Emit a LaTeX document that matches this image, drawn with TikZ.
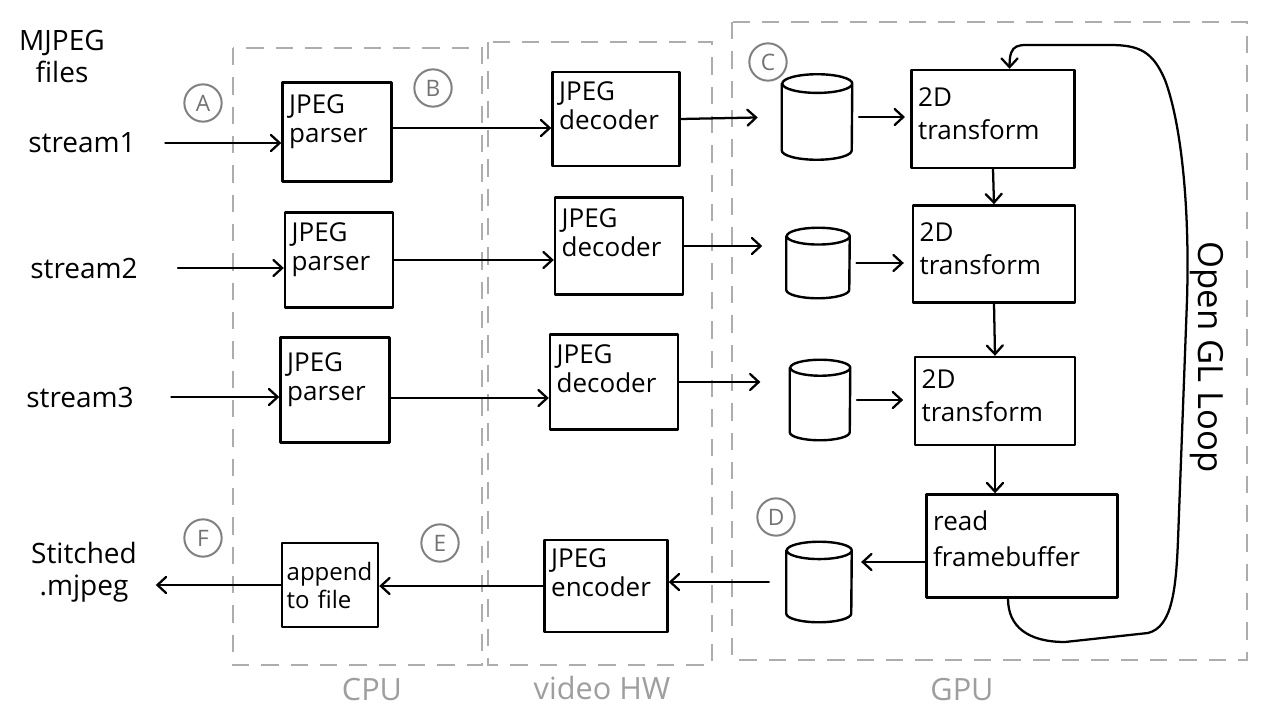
\documentclass[tikz,border=0pt]{standalone}
\usepackage{fontspec}
\setmainfont{Open Sans}
\usetikzlibrary{arrows.meta}
\newcommand\drawcyl[5]{%
  \node[minimum width=#4*0.75pt, minimum height=#5*0.75pt, inner sep=0pt] (#1) at (#2,#3) {};
  \draw[ink] ([yshift=-#4*0.1pt]#1.north west) -- ([yshift=#4*0.1pt]#1.south west)
    arc[start angle=180, end angle=360, x radius=#4*0.375pt, y radius=#4*0.1pt]
    -- ([yshift=-#4*0.1pt]#1.north east)
    arc[start angle=0, end angle=360, x radius=#4*0.375pt, y radius=#4*0.1pt];
}
\begin{document}
\begin{tikzpicture}[x=0.75pt,y=-0.75pt,
  ink/.style={line width=1.8pt, line join=round, line cap=round},
  box/.style 2 args={draw, ink, rectangle, align=left, inner xsep=5pt, inner ysep=3.5pt,
     font=\fontsize{19.5}{22}\selectfont, text width=#1*0.75pt-10pt, minimum height=#2*0.75pt,
     text depth=42pt},
  tbox/.style={font=\fontsize{19.5}{25}\selectfont, text depth=33pt},
  flow/.style={line width=1.7pt, line cap=round, -{Straight Barb[length=6.5pt,width=12pt,line cap=round]}},
  region/.style={draw=black!32, line width=2pt, dash pattern=on 13pt off 9pt},
  tag/.style={draw=black!50, circle, line width=1.5pt, text=black!55, inner sep=0pt,
     minimum size=28pt, font=\fontsize{17}{17}\selectfont},
  lbl/.style={font=\fontsize{21}{24}\selectfont, align=left, inner sep=0pt},
  regionlabel/.style={text=black!38, font=\fontsize{23}{25}\selectfont}
]
\useasboundingbox (0,0) rectangle (1280,720);

% regions
\draw[region] (233,48) rectangle (482,665);
\draw[region] (488,42) rectangle (712,665);
\draw[region] (732,22) rectangle (1247,660);
\node[regionlabel] (lcpu) at (372,690) {CPU};
\node[regionlabel] (lvid) at (602,688) {video HW};
\node[regionlabel] (lgpu) at (962,690) {GPU};

% left labels
\node[lbl, align=center] (mj) at (62,57) {MJPEG\\files};
\node[lbl, anchor=west] (s1) at (28,143) {stream1};
\node[lbl, anchor=west] (s2) at (30,268) {stream2};
\node[lbl, anchor=west] (s3) at (26,397) {stream3};
\node[lbl, align=center] (st) at (84,572) {Stitched\\.mjpeg};

% tags
\node[tag] (tA) at (203,103) {A};
\node[tag] (tB) at (433,88) {B};
\node[tag] (tC) at (768,62) {C};
\node[tag] (tD) at (776,517) {D};
\node[tag] (tE) at (440,543) {E};
\node[tag] (tF) at (203,538) {F};

% CPU
\node[box={109}{99}] (p1) at (337,132) {JPEG\\parser};
\node[box={108}{95}] (p2) at (339,260) {JPEG\\parser};
\node[box={109}{105}] (p3) at (335,390) {JPEG\\parser};
\node[box={96}{84}, inner xsep=3.5pt, text width=96*0.75pt-7pt, font=\fontsize{18}{21}\selectfont, text depth={}] (app) at (330,585) {append\\to file};

% video HW
\node[box={127}{94}] (d1) at (616,119) {JPEG\\decoder};
\node[box={128}{97}] (d2) at (619,246) {JPEG\\decoder};
\node[box={128}{95}] (d3) at (614,382) {JPEG\\decoder};
\node[box={123}{92}] (enc) at (606,586) {JPEG\\encoder};

% GPU
\drawcyl{c1}{817}{117}{70}{85}
\drawcyl{c2}{818}{263}{63}{70}
\drawcyl{c3}{820}{400}{60}{80}
\drawcyl{cD}{819}{582}{65}{80}
\node[box={163}{98}, tbox] (t1) at (993,119) {2D\\transform};
\node[box={162}{97}, tbox] (t2) at (994,254) {2D\\transform};
\node[box={160}{88}, tbox] (t3) at (995,401) {2D\\transform};
\node[box={191}{103}, font=\fontsize{19.5}{27}\selectfont, text depth=38pt] (fb) at (1022,546) {read\\framebuffer};

% helper points
\coordinate (p1o) at ([yshift=3pt]p1.east);
\coordinate (p3o) at ([yshift=-6pt]p3.east);
\coordinate (fbo) at ([yshift=-12pt]fb.west);
\coordinate (loopend) at ([xshift=12.4pt]t1.north);
\coordinate (loopctl) at ([xshift=12.4pt,yshift=20pt]t1.north);
\coordinate (loopstart) at ([xshift=-10.5pt]fb.south);

% flows row 1
\draw[flow] ([xshift=22pt]s1.east) -- (p1.west |- s1.east);
\draw[flow] (p1o) -- (d1.west |- p1o);
\draw[flow, shorten >=18pt] (d1.east) -- (c1.west);
\draw[flow, shorten <=5pt, shorten >=4pt] (c1.east) -- (t1.west |- c1.east);
% row 2
\draw[flow] ([xshift=30pt]s2.east) -- (p2.west |- s2.east);
\draw[flow] (p2.east) -- (d2.west |- p2.east);
\draw[flow, shorten >=18pt] (d2.east) -- (c2.west |- d2.east);
\draw[flow, shorten <=5pt, shorten >=6pt] (c2.east) -- (t2.west |- c2.east);
% row 3
\draw[flow] ([xshift=28pt]s3.east) -- (p3.west |- s3.east);
\draw[flow] (p3o) -- (d3.west |- p3o);
\draw[flow, shorten >=22pt] (d3.east) -- (c3.west |- d3.east);
\draw[flow, shorten <=5pt, shorten >=8pt] (c3.east) -- (t3.west |- c3.east);
% vertical chain
\draw[flow] (t1.south) -- (t2.north);
\draw[flow] (t2.south) -- (t3.north);
\draw[flow] (t3.south) -- (t3.south |- fb.north);
% return row
\draw[flow, shorten >=7pt] (fbo) -- (cD.east |- fbo);
\draw[flow, shorten <=13pt] (cD.west) -- (enc.east |- cD.west);
\draw[flow] (enc.west) -- (app.east |- enc.west);
\draw[flow, shorten >=14pt] (app.west) -- (st.east |- app.west);

% OpenGL loop
\draw[flow] (loopstart) .. controls +(0,28) and (1028,642) .. (1065,642)
  -- (1148,633) .. controls (1172,627) and (1176,590) .. (1178,540)
  -- (1187,300) .. controls (1190,200) and (1180,120) .. (1165,80)
  .. controls (1153,52) and (1140,45) .. (1110,45)
  -- (1040,45) .. controls (1018,45) and (loopctl) .. (loopend);
\node[lbl, rotate=-90, font=\fontsize{26}{28}\selectfont] (ogl) at (1207,357) {Open GL Loop};
\end{tikzpicture}
\end{document}
